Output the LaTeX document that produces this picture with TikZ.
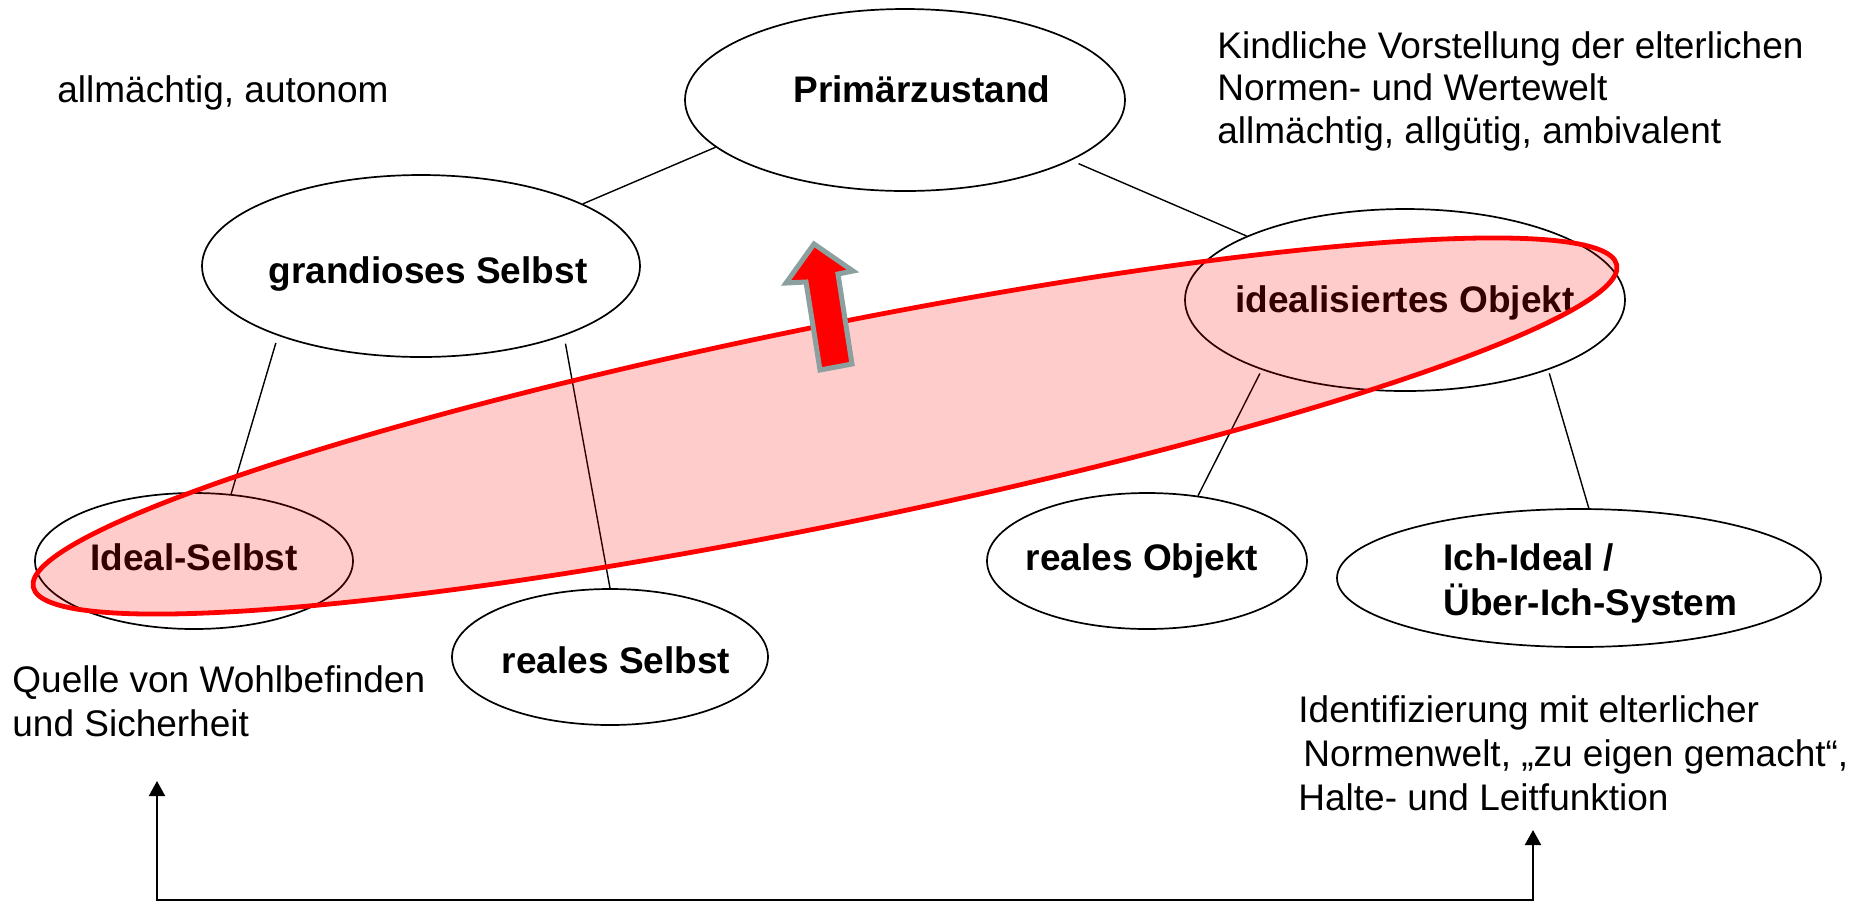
\documentclass[tikz,border=0pt]{standalone}
\usepackage{fontspec}
\setmainfont{Liberation Sans}
\usetikzlibrary{shapes.geometric,arrows.meta}
\definecolor{arrowgray}{RGB}{140,160,160}
\tikzset{mytip/.tip={Triangle[width=8pt,length=7.5pt]}}
\begin{document}
\begin{tikzpicture}[x=0.5pt,y=-0.5pt,
  ell/.style={draw, ellipse, line width=0.85pt, inner xsep=-20pt, inner ysep=0pt, text depth=0pt,
    font=\bfseries\fontsize{18.5}{22.5}\selectfont},
  lbl/.style={inner sep=0pt, font=\bfseries\fontsize{18.5}{22.5}\selectfont},
  txt/.style={inner sep=0pt, align=left, font=\fontsize{18.5}{22}\selectfont},
  con/.style={line width=0.7pt}]
\useasboundingbox (0,0) rectangle (1860,902);

% ellipses
\node[ell, minimum width=220pt, minimum height=91pt] (pz) at (905,100) {};
\node[lbl, anchor=base] (pzt) at (922,102) {Primärzustand};
\node[ell, minimum width=219pt, minimum height=91pt, text height=17pt] (gs) at (421,266) {\hspace*{7pt}grandioses Selbst};
\node[ell, minimum width=220pt, minimum height=91pt, text height=12pt] (io) at (1405,300) {idealisiertes Objekt};
\node[ell, minimum width=159pt, minimum height=68pt, text height=9pt] (is) at (194,561) {Ideal-Selbst};
\node[ell, minimum width=158pt, minimum height=68pt, text height=16pt] (rs) at (610,657) {\hspace*{6pt}reales Selbst};
\node[ell, minimum width=160pt, minimum height=68pt, text height=9pt] (ro) at (1147,561) {reales Objekt\hspace*{5pt}};
\node[ell, minimum width=242pt, minimum height=69pt] (ii) at (1579,578) {};
\node[lbl, anchor=base west, align=left] (iit) at (1443,615) {Ich-Ideal /\\Über-Ich-System};

% connectors
\draw[con] (pz.194) -- (gs.21);
\draw[con, shorten <=4pt] (pz.340.5) -- (io.158);
\draw[con, shorten <=3.75pt] (gs.206) -- (is.61);
\draw[con, shorten <=4pt] (gs.334) -- (rs.90);
\draw[con, shorten <=2pt] (io.206) -- (ro.52);
\draw[con, shorten <=1.8pt] (io.334) -- (ii.82);

% free texts (base = baseline of last line)
\node[txt, anchor=base west] (tl) at (57,102) {allmächtig, autonom};
\node[txt, anchor=base west, font=\fontsize{18.5}{21.25}\selectfont] (tr) at (1217,143)
  {Kindliche Vorstellung der elterlichen\\Normen- und Wertewelt\\allmächtig, allgütig, ambivalent};
\node[txt, anchor=base west] (ql) at (12,736) {Quelle von Wohlbefinden\\und Sicherheit};
\node[txt, anchor=base west] (br) at (1298,810)
  {Identifizierung mit elterlicher\\\hspace*{2.5pt}Normenwelt, „zu eigen gemacht“,\\Halte- und Leitfunktion};

% red overlay ellipse
\draw[red, line width=2.4pt, fill=red, fill opacity=0.2, rotate around={11.5:(825,426)}]
  (825,426) ellipse [x radius=808, y radius=99];

% big arrow
\draw[draw=arrowgray, line width=2.5pt, fill=red, line join=miter]
  (814,244) -- (853,271) -- (838,274) -- (852,364) -- (820,370) -- (806,282) -- (786,283) -- cycle;

% bottom connector
\coordinate (qa) at (157,781);
\coordinate (qb) at (157,900);
\coordinate (na) at (1533,830);
\draw[line width=1pt, mytip-mytip] (qa) -- (qb) -| (na);
\end{tikzpicture}
\end{document}
